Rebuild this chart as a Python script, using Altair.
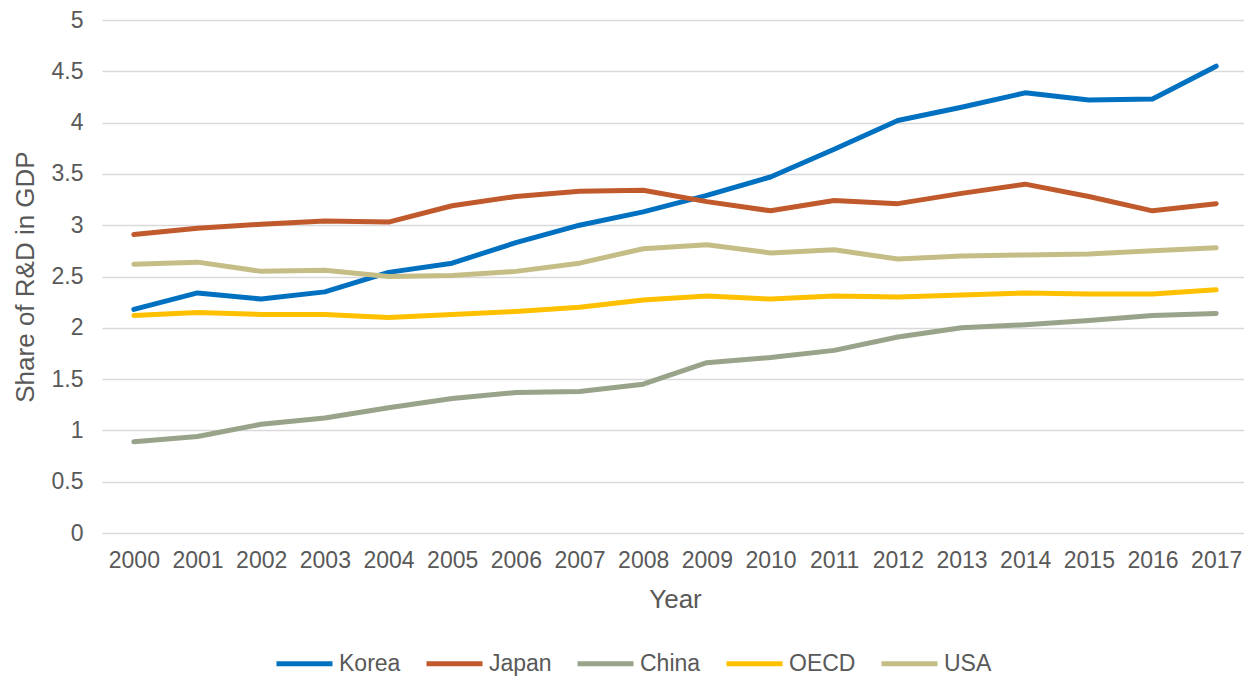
import altair as alt
import pandas as pd

years = [str(y) for y in range(2000, 2018)]
korea = [2.18, 2.34, 2.28, 2.35, 2.54, 2.63, 2.83, 3.00, 3.13, 3.29, 3.47, 3.74, 4.02, 4.15, 4.29, 4.22, 4.23, 4.55]
japan = [2.91, 2.97, 3.01, 3.04, 3.03, 3.19, 3.28, 3.33, 3.34, 3.23, 3.14, 3.24, 3.21, 3.31, 3.40, 3.28, 3.14, 3.21]
china = [0.89, 0.94, 1.06, 1.12, 1.22, 1.31, 1.37, 1.38, 1.45, 1.66, 1.71, 1.78, 1.91, 2.00, 2.03, 2.07, 2.12, 2.14]
oecd = [2.12, 2.15, 2.13, 2.13, 2.10, 2.13, 2.16, 2.20, 2.27, 2.31, 2.28, 2.31, 2.30, 2.32, 2.34, 2.33, 2.33, 2.37]
usa = [2.62, 2.64, 2.55, 2.56, 2.50, 2.51, 2.55, 2.63, 2.77, 2.81, 2.73, 2.76, 2.67, 2.70, 2.71, 2.72, 2.75, 2.78]
y_ticks = [0, 0.5, 1, 1.5, 2, 2.5, 3, 3.5, 4, 4.5, 5]

series_names = ["Korea", "Japan", "China", "OECD", "USA"]
series_values = [korea, japan, china, oecd, usa]
series_colors = ["#0070C0", "#C05A2C", "#98A38A", "#FFC000", "#C4BE86"]

rows = []
for name, vals in zip(series_names, series_values):
    for y, v in zip(years, vals):
        rows.append({"Year": y, "Country": name, "Value": v})
df = pd.DataFrame(rows)

FONT = "Liberation Sans"
GREY = "#595959"

chart = (
    alt.Chart(df)
    .mark_line(strokeWidth=5, strokeCap="round", strokeJoin="round")
    .encode(
        x=alt.X(
            "Year:N",
            sort=years,
            scale=alt.Scale(type="point", padding=0.5),
            axis=alt.Axis(
                title="Year",
                labelAngle=0,
                domain=False,
                ticks=False,
                grid=False,
                labelFont=FONT,
                labelFontSize=23,
                labelColor=GREY,
                labelPadding=16,
                titleFont=FONT,
                titleFontSize=26,
                titleFontWeight="normal",
                titleColor=GREY,
                titlePadding=14,
            ),
        ),
        y=alt.Y(
            "Value:Q",
            scale=alt.Scale(domain=[0, 5], nice=False, zero=True),
            axis=alt.Axis(
                title="Share of R&D in GDP",
                values=y_ticks,
                format="~g",
                domain=False,
                ticks=False,
                grid=True,
                gridColor="#D9D9D9",
                gridWidth=1.5,
                labelFont=FONT,
                labelFontSize=23,
                labelColor=GREY,
                labelPadding=19,
                titleFont=FONT,
                titleFontSize=26,
                titleFontWeight="normal",
                titleColor=GREY,
                titlePadding=13,
            ),
        ),
        color=alt.Color(
            "Country:N",
            sort=series_names,
            scale=alt.Scale(domain=series_names, range=series_colors),
            legend=alt.Legend(
                title=None,
                orient="none",
                legendX=172,
                legendY=613,
                direction="horizontal",
                symbolType="stroke",
                symbolSize=3136,
                symbolStrokeWidth=5,
                labelFont=FONT,
                labelFontSize=23,
                labelColor=GREY,
                labelOffset=4,
                columnPadding=15,
            ),
        ),
    )
    .properties(
        width=1146,
        height=513,
        padding={"left": 94, "top": 12, "right": -4, "bottom": 143},
        autosize=alt.AutoSizeParams(type="none"),
    )
    .configure_view(stroke=None)
)

chart.save("out.html", embed_options={"renderer": "svg", "actions": False})
